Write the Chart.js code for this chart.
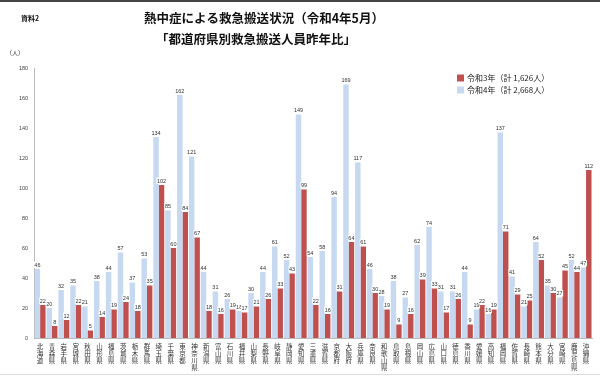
<!DOCTYPE html>
<html lang="ja">
<head>
<meta charset="utf-8">
<script src="https://cdn.jsdelivr.net/npm/chart.js@4"></script>
<style>
  html, body { margin: 0; padding: 0; background: #fff; }
  #wrap { position: relative; width: 600px; height: 376px; }
</style>
</head>
<body>
<div id="wrap"><canvas id="heatChart"></canvas></div>
<script>
// 都道府県
const prefectures = [
  '北海道', '青森県', '岩手県', '宮城県', '秋田県', '山形県', '福島県', '茨城県', '栃木県', '群馬県',
  '埼玉県', '千葉県', '東京都', '神奈川県', '新潟県', '富山県', '石川県', '福井県', '山梨県', '長野県',
  '岐阜県', '静岡県', '愛知県', '三重県', '滋賀県', '京都府', '大阪府', '兵庫県', '奈良県', '和歌山県',
  '鳥取県', '島根県', '岡山県', '広島県', '山口県', '徳島県', '香川県', '愛媛県', '高知県', '福岡県',
  '佐賀県', '長崎県', '熊本県', '大分県', '宮崎県', '鹿児島県', '沖縄県'
];

// 令和4年5月
const r4Values = [
  46, 20, 32, 35, 21, 38, 44, 57, 37, 53,
  134, 85, 162, 121, 44, 31, 26, 18, 30, 44,
  61, 52, 149, 54, 58, 94, 169, 117, 46, 28,
  38, 27, 62, 74, 31, 31, 44, 19, 16, 137,
  41, 21, 64, 35, 27, 52, 47
];

// 令和3年5月
const r3Values = [
  22, 8, 12, 22, 5, 14, 19, 24, 18, 35,
  102, 60, 84, 67, 18, 16, 19, 17, 21, 26,
  33, 43, 99, 22, 16, 31, 64, 61, 30, 19,
  9, 16, 39, 33, 17, 26, 9, 22, 19, 71,
  29, 25, 52, 30, 45, 44, 112
];

const yTicks = [0, 20, 40, 60, 80, 100, 120, 140, 160, 180];

const titleLines = ['熱中症による救急搬送状況（令和4年5月）', '「都道府県別救急搬送人員昨年比」'];
const r3Label = '令和3年（計 1,626人）';
const r4Label = '令和4年（計 2,668人）';

const RED = '#c0504d';
const BLUE = '#c6d9f0';
const JP = '"Noto Sans CJK JP", "Noto Sans", sans-serif';

// value labels, vertical category names, title, legend and frame
const decorPlugin = {
  id: 'decor',
  afterDatasetsDraw(chart) {
    const ctx = chart.ctx;
    ctx.save();
    ctx.font = '5.5px "Liberation Sans", Arial, sans-serif';
    ctx.textAlign = 'center';
    ctx.textBaseline = 'bottom';
    chart.data.datasets.forEach((ds, di) => {
      const meta = chart.getDatasetMeta(di);
      meta.data.forEach((bar, i) => {
        const txt = String(ds.data[i]);
        const w = ctx.measureText(txt).width;
        ctx.fillStyle = '#fff';
        ctx.fillRect(bar.x - w / 2 - 0.5, bar.y - 7.5, w + 1, 6.5);
        ctx.fillStyle = '#333';
        ctx.fillText(txt, bar.x, bar.y - 1);
      });
    });
    ctx.restore();
  },
  afterDraw(chart) {
    const ctx = chart.ctx;
    const xs = chart.scales.x;
    ctx.save();

    // category names, one character per line
    ctx.fillStyle = '#333';
    ctx.font = '6.5px ' + JP;
    ctx.textAlign = 'center';
    ctx.textBaseline = 'middle';
    prefectures.forEach((name, i) => {
      const x = xs.getPixelForValue(i);
      name.split('').forEach((ch, k) => {
        ctx.fillText(ch, x, 347 + k * 7);
      });
    });

    // frame lines
    ctx.fillStyle = '#444';
    ctx.fillRect(0, 0, 600, 2);
    ctx.fillStyle = '#ddd';
    ctx.fillRect(0, 374, 600, 1);

    // title
    ctx.fillStyle = '#111';
    ctx.font = 'bold 12.5px ' + JP;
    ctx.fillText(titleLines[0], 264, 18);
    ctx.fillText(titleLines[1], 256, 39);

    ctx.textAlign = 'left';
    ctx.font = 'bold 7px ' + JP;
    ctx.fillText('資料2', 21, 18);
    ctx.font = '6px ' + JP;
    ctx.fillStyle = '#333';
    ctx.fillText('（人）', 6, 53);

    // legend
    ctx.font = '8px ' + JP;
    const items = [[RED, r3Label, 78], [BLUE, r4Label, 90]];
    items.forEach(([c, t, y]) => {
      ctx.fillStyle = c;
      ctx.fillRect(457, y - 3.5, 7, 7);
      ctx.fillStyle = '#222';
      ctx.fillText(t, 467, y);
    });
    ctx.restore();
  }
};

new Chart(document.getElementById('heatChart'), {
  type: 'bar',
  data: {
    labels: prefectures,
    datasets: [
      { label: r4Label, data: r4Values, backgroundColor: BLUE, barPercentage: 1, categoryPercentage: 0.92 },
      { label: r3Label, data: r3Values, backgroundColor: RED, barPercentage: 1, categoryPercentage: 0.92 }
    ]
  },
  options: {
    responsive: true,
    maintainAspectRatio: false,
    animation: false,
    layout: { padding: { top: 68, right: 8, bottom: 38, left: 13 } },
    plugins: {
      legend: { display: false },
      title: { display: false },
      tooltip: { enabled: false }
    },
    scales: {
      x: {
        grid: { display: false, drawTicks: false },
        border: { color: '#bbb' },
        ticks: { display: false }
      },
      y: {
        min: 0,
        max: 180,
        afterBuildTicks: (axis) => { axis.ticks = yTicks.map((v) => ({ value: v })); },
        grid: { display: false, drawTicks: false },
        border: { color: '#bbb' },
        ticks: {
          padding: 6,
          color: '#444',
          font: { size: 5.5, family: '"Liberation Sans", Arial, sans-serif' }
        }
      }
    }
  },
  plugins: [decorPlugin]
});
</script>
</body>
</html>
